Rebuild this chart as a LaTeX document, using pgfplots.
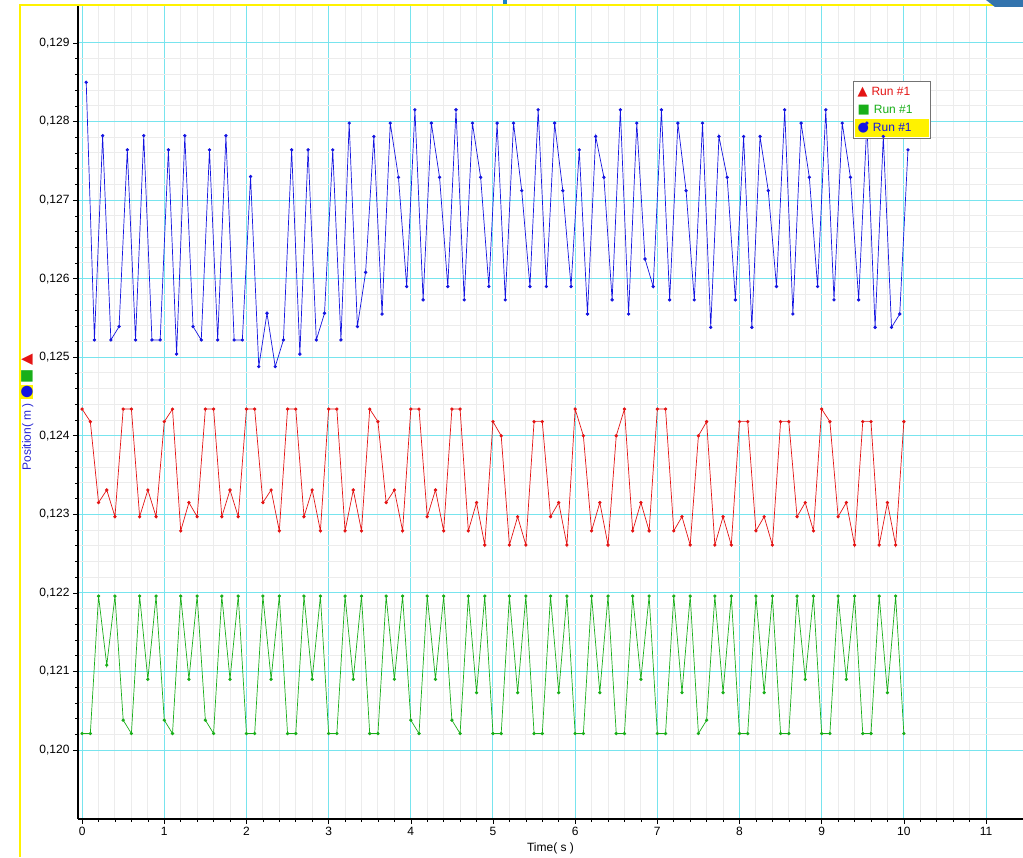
\documentclass[border=0pt]{standalone}
\usepackage{pgfplots}
\pgfplotsset{compat=1.18}
\usepackage{fontspec}
\setmainfont{Liberation Sans}
\newfontfamily\symfont{DejaVu Sans}
\definecolor{gridcyan}{RGB}{120,228,238}
\definecolor{minorgrey}{RGB}{236,236,236}
\definecolor{sblue}{RGB}{20,20,225}
\definecolor{sred}{RGB}{228,20,20}
\definecolor{sgreen}{RGB}{25,175,25}
\definecolor{labblue}{RGB}{40,40,210}

\pgfplotstableread{
t y
0.0 0.12434
0.1 0.12418
0.2 0.12315
0.3 0.12331
0.4 0.12297
0.5 0.12434
0.6 0.12434
0.7 0.12297
0.8 0.12331
0.9 0.12297
1.0 0.12418
1.1 0.12434
1.2 0.12279
1.3 0.12315
1.4 0.12297
1.5 0.12434
1.6 0.12434
1.7 0.12297
1.8 0.12331
1.9 0.12297
2.0 0.12434
2.1 0.12434
2.2 0.12315
2.3 0.12331
2.4 0.12279
2.5 0.12434
2.6 0.12434
2.7 0.12297
2.8 0.12331
2.9 0.12279
3.0 0.12434
3.1 0.12434
3.2 0.12279
3.3 0.12331
3.4 0.12279
3.5 0.12434
3.6 0.12418
3.7 0.12315
3.8 0.12331
3.9 0.12279
4.0 0.12434
4.1 0.12434
4.2 0.12297
4.3 0.12331
4.4 0.12279
4.5 0.12434
4.6 0.12434
4.7 0.12279
4.8 0.12315
4.9 0.12261
5.0 0.12418
5.1 0.12400
5.2 0.12261
5.3 0.12297
5.4 0.12261
5.5 0.12418
5.6 0.12418
5.7 0.12297
5.8 0.12315
5.9 0.12261
6.0 0.12434
6.1 0.12400
6.2 0.12279
6.3 0.12315
6.4 0.12261
6.5 0.12400
6.6 0.12434
6.7 0.12279
6.8 0.12315
6.9 0.12279
7.0 0.12434
7.1 0.12434
7.2 0.12279
7.3 0.12297
7.4 0.12261
7.5 0.12400
7.6 0.12418
7.7 0.12261
7.8 0.12297
7.9 0.12261
8.0 0.12418
8.1 0.12418
8.2 0.12279
8.3 0.12297
8.4 0.12261
8.5 0.12418
8.6 0.12418
8.7 0.12297
8.8 0.12315
8.9 0.12279
9.0 0.12434
9.1 0.12418
9.2 0.12297
9.3 0.12315
9.4 0.12261
9.5 0.12418
9.6 0.12418
9.7 0.12261
9.8 0.12315
9.9 0.12261
10.0 0.12418
}\redrun

\pgfplotstableread{
t y
0.0 0.12021
0.1 0.12021
0.2 0.12196
0.3 0.12108
0.4 0.12196
0.5 0.12038
0.6 0.12021
0.7 0.12196
0.8 0.12090
0.9 0.12196
1.0 0.12038
1.1 0.12021
1.2 0.12196
1.3 0.12090
1.4 0.12196
1.5 0.12038
1.6 0.12021
1.7 0.12196
1.8 0.12090
1.9 0.12196
2.0 0.12021
2.1 0.12021
2.2 0.12196
2.3 0.12090
2.4 0.12196
2.5 0.12021
2.6 0.12021
2.7 0.12196
2.8 0.12090
2.9 0.12196
3.0 0.12021
3.1 0.12021
3.2 0.12196
3.3 0.12090
3.4 0.12196
3.5 0.12021
3.6 0.12021
3.7 0.12196
3.8 0.12090
3.9 0.12196
4.0 0.12038
4.1 0.12021
4.2 0.12196
4.3 0.12090
4.4 0.12196
4.5 0.12038
4.6 0.12021
4.7 0.12196
4.8 0.12073
4.9 0.12196
5.0 0.12021
5.1 0.12021
5.2 0.12196
5.3 0.12073
5.4 0.12196
5.5 0.12021
5.6 0.12021
5.7 0.12196
5.8 0.12073
5.9 0.12196
6.0 0.12021
6.1 0.12021
6.2 0.12196
6.3 0.12073
6.4 0.12196
6.5 0.12021
6.6 0.12021
6.7 0.12196
6.8 0.12090
6.9 0.12196
7.0 0.12021
7.1 0.12021
7.2 0.12196
7.3 0.12073
7.4 0.12196
7.5 0.12021
7.6 0.12038
7.7 0.12196
7.8 0.12073
7.9 0.12196
8.0 0.12021
8.1 0.12021
8.2 0.12196
8.3 0.12073
8.4 0.12196
8.5 0.12021
8.6 0.12021
8.7 0.12196
8.8 0.12090
8.9 0.12196
9.0 0.12021
9.1 0.12021
9.2 0.12196
9.3 0.12090
9.4 0.12196
9.5 0.12021
9.6 0.12021
9.7 0.12196
9.8 0.12073
9.9 0.12196
10.0 0.12021
}\greenrun

\pgfplotstableread{
t y
0.05 0.12850
0.15 0.12522
0.25 0.12782
0.35 0.12522
0.45 0.12539
0.55 0.12764
0.65 0.12522
0.75 0.12782
0.85 0.12522
0.95 0.12522
1.05 0.12764
1.15 0.12504
1.25 0.12782
1.35 0.12539
1.45 0.12522
1.55 0.12764
1.65 0.12522
1.75 0.12782
1.85 0.12522
1.95 0.12522
2.05 0.12730
2.15 0.12488
2.25 0.12556
2.35 0.12488
2.45 0.12522
2.55 0.12764
2.65 0.12504
2.75 0.12764
2.85 0.12522
2.95 0.12556
3.05 0.12764
3.15 0.12522
3.25 0.12798
3.35 0.12539
3.45 0.12608
3.55 0.12781
3.65 0.12555
3.75 0.12798
3.85 0.12729
3.95 0.12590
4.05 0.12815
4.15 0.12573
4.25 0.12798
4.35 0.12729
4.45 0.12590
4.55 0.12815
4.65 0.12573
4.75 0.12798
4.85 0.12729
4.95 0.12590
5.05 0.12798
5.15 0.12573
5.25 0.12798
5.35 0.12712
5.45 0.12590
5.55 0.12815
5.65 0.12590
5.75 0.12798
5.85 0.12712
5.95 0.12590
6.05 0.12764
6.15 0.12555
6.25 0.12781
6.35 0.12729
6.45 0.12573
6.55 0.12815
6.65 0.12555
6.75 0.12798
6.85 0.12625
6.95 0.12590
7.05 0.12815
7.15 0.12573
7.25 0.12798
7.35 0.12712
7.45 0.12573
7.55 0.12798
7.65 0.12538
7.75 0.12781
7.85 0.12729
7.95 0.12573
8.05 0.12781
8.15 0.12538
8.25 0.12781
8.35 0.12712
8.45 0.12590
8.55 0.12815
8.65 0.12555
8.75 0.12798
8.85 0.12729
8.95 0.12590
9.05 0.12815
9.15 0.12573
9.25 0.12798
9.35 0.12729
9.45 0.12573
9.55 0.12798
9.65 0.12538
9.75 0.12781
9.85 0.12538
9.95 0.12555
10.05 0.12764
}\bluerun

\newcommand{\legrow}[3]{\hbox{\makebox[74pt][l]{\rule[-5pt]{0pt}{18pt}\hspace{3pt}{\symfont\fontsize{13}{13}\selectfont\textcolor{#1}{#2}}\hspace{4pt}\textcolor{#1}{#3}}}}

\begin{document}
\begin{tikzpicture}[x=1pt,y=1pt]
\useasboundingbox (0,0) rectangle (1023,857);
\fill[white] (0,0) rectangle (1023,857);
\begin{axis}[
  at={(78pt,38pt)}, anchor=south west,
  scale only axis, width=945pt, height=813pt,
  xmin=-0.05, xmax=11.45, ymin=0.119122, ymax=0.129471,
  axis x line*=bottom, axis y line*=left,
  axis line style={black, line width=1.2pt, -},
  xtick={0,1,2,3,4,5,6,7,8,9,10,11},
  ytick={0.120,0.121,0.122,0.123,0.124,0.125,0.126,0.127,0.128,0.129},
  minor x tick num=4, minor y tick num=4,
  grid=both,
  major grid style={gridcyan, line width=1pt},
  minor grid style={minorgrey, line width=1pt},
  tick align=outside,
  major tick length=5pt, minor tick length=3pt,
  tick style={black, line width=0.6pt},
  scaled y ticks=false,
  yticklabel style={/pgf/number format/.cd, fixed, fixed zerofill, precision=3, use comma, assume math mode=true},
  xticklabel style={/pgf/number format/assume math mode=true},
  tick label style={font=\fontsize{12}{14}\selectfont, black},
  xlabel={Time( s )},
  xlabel style={font=\fontsize{12}{14}\selectfont, at={(axis description cs:0.5,-0.0357)}, anchor=center},
  ylabel={\textcolor{labblue}{Position( m )}\hspace{4pt}{\symfont\fontsize{15}{15}\selectfont\setlength{\fboxsep}{0.5pt}\colorbox{yellow}{\textcolor{sblue}{●}}\hspace{2pt}\textcolor{sgreen}{■}\hspace{3pt}\textcolor{sred}{▲}}},
  ylabel style={font=\fontsize{12}{14}\selectfont, at={(axis description cs:-0.054,0.5)}, anchor=center},
  clip=true,
]
\addplot[sblue, line width=0.7pt, mark=*, mark size=1.3pt] table[x=t,y=y] {\bluerun};
\addplot[sred, line width=0.7pt, mark=*, mark size=1.3pt] table[x=t,y=y] {\redrun};
\addplot[sgreen, line width=0.7pt, mark=*, mark size=1.3pt] table[x=t,y=y] {\greenrun};
\node[draw=black!55, line width=1pt, fill=white, anchor=north west, inner sep=1.5pt, font=\fontsize{12}{14}\selectfont] at (axis cs:9.376,0.12852)
 {\vbox{\offinterlineskip
   \legrow{sred}{▲}{Run \#1}
   \legrow{sgreen}{■}{Run \#1}
   \hbox{\setlength{\fboxsep}{0pt}\colorbox{yellow}{\legrow{sblue}{●}{Run \#1}}}}};
\end{axis}
\draw[yellow, line width=2pt] (20,0) -- (20,851.5) -- (1023,851.5);
\fill[black!10!cyan!70!blue] (503,853) rectangle (507,857);
\fill[cyan!60!blue!80!black] (986,857) -- (1023,857) -- (1023,850) -- (995,850) -- cycle;
\end{tikzpicture}
\end{document}
